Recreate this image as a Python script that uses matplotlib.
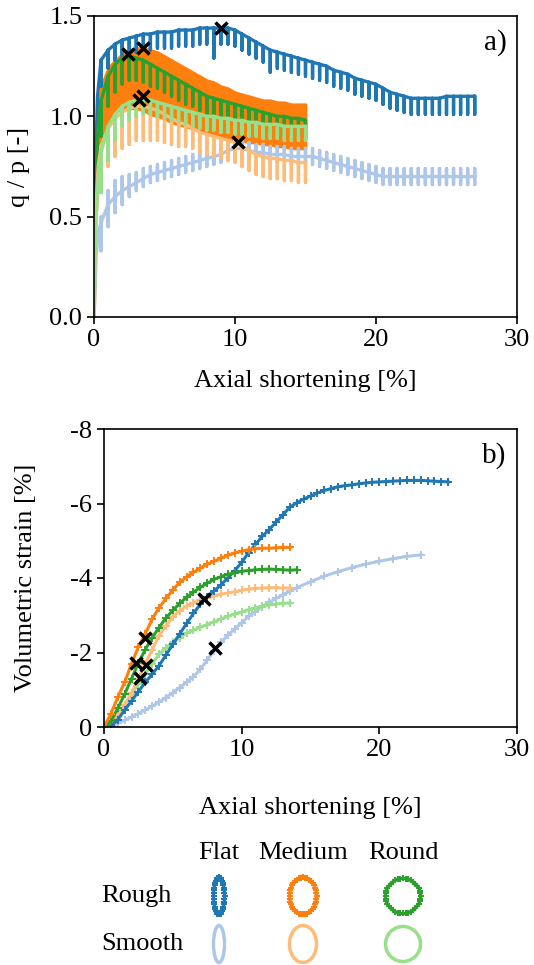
import numpy as np
import matplotlib
matplotlib.use('Agg')
import matplotlib.pyplot as plt
from matplotlib.patches import Ellipse

plt.rcParams['font.family'] = ['Liberation Serif', 'DejaVu Serif']
plt.rcParams['axes.unicode_minus'] = False
plt.rcParams['axes.linewidth'] = 1.2
plt.rcParams['xtick.major.width'] = 1.2
plt.rcParams['ytick.major.width'] = 1.2
plt.rcParams['xtick.major.size'] = 5
plt.rcParams['ytick.major.size'] = 5

FS = 19

# colours per sample: rough/smooth x flat/medium/round
C_FLAT_R, C_FLAT_S = '#1f77b4', '#aec7e8'
C_MED_R, C_MED_S = '#ff7f0e', '#ffbb78'
C_RND_R, C_RND_S = '#2ca02c', '#98df8a'

# ---------------- a) stress ratio q/p vs axial shortening ----------------
# unloading cycles, every 0.5 % axial shortening
cyc_27 = [0.5, 1.0, 1.5, 2.0, 2.5, 3.0, 3.5, 4.0, 4.5, 5.0,
          5.5, 6.0, 6.5, 7.0, 7.5, 8.0, 8.5, 9.0, 9.5, 10.0,
          10.5, 11.0, 11.5, 12.0, 12.5, 13.0, 13.5, 14.0, 14.5, 15.0,
          15.5, 16.0, 16.5, 17.0, 17.5, 18.0, 18.5, 19.0, 19.5, 20.0,
          20.5, 21.0, 21.5, 22.0, 22.5, 23.0, 23.5, 24.0, 24.5, 25.0,
          25.5, 26.0, 26.5, 27.0]
cyc_15 = [0.5, 1.0, 1.5, 2.0, 2.5, 3.0, 3.5, 4.0, 4.5, 5.0,
          5.5, 6.0, 6.5, 7.0, 7.5, 8.0, 8.5, 9.0, 9.5, 10.0,
          10.5, 11.0, 11.5, 12.0, 12.5, 13.0, 13.5, 14.0, 14.5, 15.0]

# flat rough
fr_x0, fr_y0 = [0.0, 0.1, 0.25], [0.0, 0.75, 1.10]
fr_top = [1.28, 1.33, 1.36, 1.38, 1.39, 1.40, 1.41, 1.41, 1.42, 1.42,
          1.42, 1.43, 1.43, 1.43, 1.44, 1.44, 1.44, 1.44, 1.44, 1.43,
          1.41, 1.39, 1.37, 1.35, 1.33, 1.32, 1.31, 1.30, 1.29, 1.28,
          1.27, 1.26, 1.25, 1.23, 1.22, 1.21, 1.19, 1.18, 1.17, 1.16,
          1.14, 1.12, 1.11, 1.10, 1.09, 1.09, 1.09, 1.09, 1.09, 1.10,
          1.10, 1.10, 1.10, 1.10]
fr_low = [1.15, 1.24, 1.28, 1.30, 1.31, 1.32, 1.33, 1.33, 1.34, 1.34,
          1.34, 1.35, 1.35, 1.35, 1.36, 1.36, 1.29, 1.36, 1.36, 1.35,
          1.33, 1.31, 1.29, 1.27, 1.22, 1.24, 1.23, 1.22, 1.21, 1.20,
          1.19, 1.18, 1.17, 1.15, 1.14, 1.13, 1.11, 1.10, 1.09, 1.08,
          1.06, 1.04, 1.03, 1.02, 1.01, 1.01, 1.01, 1.01, 1.01, 1.01,
          1.01, 1.01, 1.01, 1.01]

# flat smooth
fs_x0, fs_y0 = [0.0, 0.15, 0.3], [0.0, 0.30, 0.42]
fs_mid = [0.47, 0.56, 0.60, 0.63, 0.65, 0.67, 0.69, 0.71, 0.72, 0.73,
          0.74, 0.75, 0.76, 0.77, 0.78, 0.79, 0.80, 0.81, 0.83, 0.84,
          0.84, 0.83, 0.82, 0.82, 0.81, 0.81, 0.81, 0.80, 0.80, 0.80,
          0.80, 0.79, 0.78, 0.77, 0.76, 0.75, 0.74, 0.73, 0.72, 0.71,
          0.70, 0.70, 0.70, 0.70, 0.70, 0.70, 0.70, 0.70, 0.70, 0.70,
          0.70, 0.70, 0.70, 0.70]
fs_low = [0.33, 0.45, 0.52, 0.56, 0.60, 0.63, 0.65, 0.67, 0.68, 0.69,
          0.70, 0.71, 0.72, 0.73, 0.74, 0.75, 0.76, 0.77, 0.79, 0.80,
          0.80, 0.79, 0.78, 0.78, 0.77, 0.77, 0.77, 0.76, 0.76, 0.76,
          0.76, 0.75, 0.74, 0.73, 0.72, 0.71, 0.70, 0.69, 0.68, 0.67,
          0.66, 0.66, 0.66, 0.66, 0.66, 0.66, 0.66, 0.66, 0.66, 0.66,
          0.66, 0.66, 0.66, 0.66]
fs_high = [0.50, 0.63, 0.68, 0.70, 0.71, 0.72, 0.74, 0.75, 0.76, 0.77,
           0.78, 0.79, 0.80, 0.81, 0.82, 0.83, 0.84, 0.85, 0.87, 0.88,
           0.88, 0.87, 0.86, 0.86, 0.85, 0.85, 0.85, 0.84, 0.84, 0.84,
           0.84, 0.83, 0.82, 0.81, 0.80, 0.79, 0.78, 0.77, 0.76, 0.75,
           0.74, 0.74, 0.74, 0.74, 0.74, 0.74, 0.74, 0.74, 0.74, 0.74,
           0.74, 0.74, 0.74, 0.74]

# medium rough: dense oscillation, given as envelope
mr_x = [0.0, 0.1, 0.3, 0.5, 1.0, 1.5, 2.0, 2.5, 3.0, 3.5, 4.0, 4.5, 5.0,
        5.5, 6.0, 6.5, 7.0, 7.5, 8.0, 8.5, 9.0, 9.5, 10.0,
        10.5, 11.0, 11.5, 12.0, 12.5, 13.0, 13.5, 14.0, 14.5, 15.0]
mr_upper = [0.0, 0.70, 1.05, 1.15, 1.24, 1.28, 1.31, 1.33, 1.34, 1.34, 1.33, 1.32, 1.30,
            1.28, 1.26, 1.24, 1.22, 1.20, 1.18, 1.17, 1.15, 1.14, 1.12,
            1.11, 1.10, 1.09, 1.08, 1.08, 1.07, 1.07, 1.06, 1.06, 1.06]
mr_lower = [0.0, 0.45, 0.75, 0.90, 0.98, 1.02, 1.04, 1.04, 1.04, 1.03, 1.01, 1.00, 0.99,
            0.97, 0.96, 0.95, 0.94, 0.93, 0.92, 0.91, 0.90, 0.89, 0.88,
            0.88, 0.87, 0.87, 0.86, 0.86, 0.85, 0.85, 0.84, 0.84, 0.84]

# medium smooth
ms_x0, ms_y0 = [0.0, 0.1, 0.3], [0.0, 0.50, 0.75]
ms_top = [0.85, 0.94, 0.99, 1.02, 1.04, 1.05, 1.05, 1.04, 1.03, 1.01,
          0.99, 0.97, 0.96, 0.94, 0.92, 0.91, 0.90, 0.89, 0.88, 0.87,
          0.85, 0.83, 0.81, 0.80, 0.79, 0.79, 0.78, 0.78, 0.77, 0.77]
ms_low = [0.62, 0.75, 0.80, 0.84, 0.86, 0.88, 0.88, 0.88, 0.88, 0.87,
          0.86, 0.85, 0.85, 0.84, 0.82, 0.81, 0.80, 0.79, 0.78, 0.77,
          0.75, 0.73, 0.71, 0.70, 0.69, 0.69, 0.68, 0.68, 0.67, 0.67]

# round rough
rr_x0, rr_y0 = [0.0, 0.1, 0.3], [0.0, 0.60, 0.95]
rr_top = [1.08, 1.20, 1.26, 1.29, 1.30, 1.29, 1.28, 1.26, 1.24, 1.22,
          1.20, 1.18, 1.16, 1.14, 1.12, 1.10, 1.09, 1.08, 1.07, 1.06,
          1.05, 1.04, 1.03, 1.02, 1.01, 1.00, 1.00, 0.99, 0.99, 0.98]
rr_low = [0.90, 1.05, 1.12, 1.16, 1.18, 1.18, 1.17, 1.15, 1.14, 1.12,
          1.10, 1.08, 1.06, 1.05, 1.03, 1.01, 1.00, 0.99, 0.98, 0.97,
          0.96, 0.95, 0.94, 0.93, 0.92, 0.91, 0.91, 0.90, 0.90, 0.89]

# round smooth
rs_x0, rs_y0 = [0.0, 0.1, 0.3], [0.0, 0.40, 0.70]
rs_top = [0.82, 0.95, 1.01, 1.05, 1.07, 1.08, 1.09, 1.08, 1.07, 1.06,
          1.05, 1.04, 1.03, 1.02, 1.01, 1.00, 1.00, 0.99, 0.99, 0.98,
          0.98, 0.97, 0.97, 0.96, 0.96, 0.96, 0.95, 0.95, 0.95, 0.95]
rs_low = [0.62, 0.78, 0.88, 0.95, 0.98, 1.00, 1.01, 1.01, 1.00, 0.99,
          0.98, 0.97, 0.96, 0.95, 0.94, 0.93, 0.93, 0.92, 0.92, 0.91,
          0.91, 0.90, 0.90, 0.89, 0.89, 0.89, 0.88, 0.88, 0.88, 0.88]

# peak stress ratio: flat R, medium R, round R, flat S, medium S, round S
peak_x = [9.0, 3.5, 2.4, 10.2, 3.2, 3.5]
peak_q = [1.44, 1.34, 1.31, 0.87, 1.08, 1.10]

# ---------------- b) volumetric strain vs axial shortening ----------------
vb_fr_x = [0, 0.5, 1, 1.5, 2, 2.5, 3, 3.5, 4, 4.5, 5, 5.5, 6, 6.5, 7, 7.5, 8, 8.5, 9, 9.5,
           10, 10.5, 11, 11.5, 12, 12.5, 13, 13.5, 14, 14.5, 15, 15.5, 16, 16.5, 17, 17.5,
           18, 18.5, 19, 19.5, 20, 20.5, 21, 21.5, 22, 22.5, 23, 23.5, 24, 24.5, 25]
vb_fr_y = [0, -0.02, -0.2, -0.45, -0.7, -0.95, -1.2, -1.42, -1.65, -1.93,
           -2.22, -2.5, -2.78, -3.05, -3.3, -3.5, -3.65, -3.82, -4.0, -4.2,
           -4.42, -4.68, -4.9, -5.12, -5.3, -5.5, -5.7, -5.9, -6.02, -6.12,
           -6.2, -6.28, -6.35, -6.4, -6.45, -6.48, -6.5, -6.53, -6.55, -6.57,
           -6.58, -6.59, -6.6, -6.61, -6.62, -6.62, -6.62, -6.61, -6.6, -6.59, -6.58]
vb_fs_x = [0, 0.5, 1, 1.5, 2, 2.5, 3, 3.5, 4, 4.5, 5, 5.5, 6, 6.5, 7, 7.5, 8, 8.5, 9, 9.5,
           10, 10.5, 11, 11.5, 12, 12.5, 13, 13.5, 14, 15, 16, 17, 18, 19, 20, 21, 22, 23]
vb_fs_y = [0, -0.03, -0.1, -0.18, -0.27, -0.36, -0.46, -0.56, -0.67, -0.79,
           -0.92, -1.06, -1.2, -1.35, -1.55, -1.8, -2.05, -2.27, -2.47, -2.63,
           -2.8, -2.97, -3.1, -3.23, -3.35, -3.45, -3.55, -3.65, -3.74,
           -3.9, -4.05, -4.17, -4.28, -4.37, -4.45, -4.52, -4.58, -4.62]
vb_m_x = [0, 0.5, 1, 1.5, 2, 2.5, 3, 3.5, 4, 4.5, 5, 5.5, 6, 6.5, 7, 7.5, 8, 8.5, 9, 9.5,
          10, 10.5, 11, 11.5, 12, 12.5, 13, 13.5]
vb_mr_y = [0, -0.35, -0.8, -1.2, -1.7, -2.15, -2.5, -2.9, -3.2, -3.45,
           -3.68, -3.88, -4.03, -4.15, -4.27, -4.37, -4.45, -4.53, -4.61, -4.67,
           -4.72, -4.76, -4.79, -4.8, -4.8, -4.81, -4.82, -4.82]
vb_ms_y = [0, -0.1, -0.3, -0.6, -0.92, -1.3, -1.7, -2.08, -2.45, -2.72,
           -2.95, -3.12, -3.25, -3.33, -3.41, -3.47, -3.52, -3.57, -3.6, -3.63,
           -3.67, -3.7, -3.72, -3.73, -3.74, -3.74, -3.73, -3.73]
vb_rr_x = [0, 0.5, 1, 1.5, 2, 2.5, 3, 3.5, 4, 4.5, 5, 5.5, 6, 6.5, 7, 7.5, 8, 8.5, 9, 9.5,
           10, 10.5, 11, 11.5, 12, 12.5, 13, 13.5, 14]
vb_rr_y = [0, -0.15, -0.5, -0.88, -1.3, -1.72, -2.08, -2.4, -2.67, -2.93,
           -3.13, -3.32, -3.48, -3.62, -3.75, -3.86, -3.96, -4.04, -4.1, -4.14,
           -4.18, -4.2, -4.22, -4.23, -4.24, -4.23, -4.22, -4.21, -4.22]
vb_rs_y = [0, -0.08, -0.3, -0.6, -0.88, -1.15, -1.42, -1.7, -1.95, -2.13,
           -2.27, -2.4, -2.52, -2.6, -2.68, -2.75, -2.83, -2.9, -2.97, -3.03,
           -3.09, -3.15, -3.2, -3.24, -3.28, -3.3, -3.32, -3.33]

# marked states: flat R, medium R, round R, flat S, medium S, round S
mark_x = [2.61, 2.98, 2.32, 8.06, 7.26, 3.05]
mark_ev = [-1.32, -2.39, -1.72, -2.12, -3.44, -1.66]


def with_cycles(x0, y0, xc, top, low, high=None):
    """Curve through the cycle tops with a vertical unloading spike at each cycle."""
    xs, ys = list(x0), list(y0)
    if high is None:
        high = top
    for xi, t, lo, hi in zip(xc, top, low, high):
        xs += [xi, xi, xi, xi]
        ys += [t, hi, lo, t]
    return xs, ys


fig = plt.figure(figsize=(5.34, 9.65), dpi=100)
W, H = 534, 965
ax1 = fig.add_axes([94 / W, 1 - 317 / H, (517 - 94) / W, (317 - 16) / H])
ax2 = fig.add_axes([104 / W, 1 - 727 / H, (517 - 104) / W, (727 - 429) / H])

LW_A = 2.4
ax1.plot(*with_cycles(fr_x0, fr_y0, cyc_27, fr_top, fr_low), color=C_FLAT_R, lw=LW_A)
ax1.fill_between(mr_x, mr_lower, mr_upper, color=C_MED_R, lw=2)
ax1.plot(*with_cycles(rr_x0, rr_y0, cyc_15, rr_top, rr_low), color=C_RND_R, lw=LW_A)
ax1.plot(*with_cycles(fs_x0, fs_y0, cyc_27, fs_mid, fs_low, fs_high), color=C_FLAT_S, lw=LW_A)
ax1.plot(*with_cycles(ms_x0, ms_y0, cyc_15, ms_top, ms_low), color=C_MED_S, lw=LW_A)
ax1.plot(*with_cycles(rs_x0, rs_y0, cyc_15, rs_top, rs_low), color=C_RND_S, lw=LW_A)
ax1.plot(peak_x, peak_q, ls='none', marker='x', ms=9, mew=2.5, color='k', zorder=5)

ax1.set_xlim(0, 30)
ax1.set_ylim(0, 1.5)
ax1.set_xticks([0, 10, 20, 30])
ax1.set_yticks([0.0, 0.5, 1.0, 1.5])
ax1.set_yticklabels(['0.0', '0.5', '1.0', '1.5'])
ax1.tick_params(labelsize=FS)
ax1.set_xlabel('Axial shortening [%]', fontsize=FS, labelpad=14)
ax1.set_ylabel('q / p [-]', fontsize=FS, labelpad=14)
ax1.text(0.975, 0.955, 'a)', transform=ax1.transAxes, ha='right', va='top', fontsize=FS + 2)

LW_B = 2.2
kw = dict(marker='+', ms=5.5, mew=1.4, lw=LW_B)
ax2.plot(vb_fs_x, vb_fs_y, color=C_FLAT_S, **kw)
ax2.plot(vb_m_x, vb_rs_y, color=C_RND_S, **kw)
ax2.plot(vb_m_x, vb_ms_y, color=C_MED_S, **kw)
ax2.plot(vb_fr_x, vb_fr_y, color=C_FLAT_R, **kw)
ax2.plot(vb_rr_x, vb_rr_y, color=C_RND_R, **kw)
ax2.plot(vb_m_x, vb_mr_y, color=C_MED_R, **kw)
ax2.plot(mark_x, mark_ev, ls='none', marker='x', ms=9, mew=2.5, color='k', zorder=5)

ax2.set_xlim(0, 30)
ax2.set_ylim(0, -8)
ax2.set_xticks([0, 10, 20, 30])
ax2.set_yticks([0, -2, -4, -6, -8])
ax2.tick_params(labelsize=FS)
ax2.set_xlabel('Axial shortening [%]', fontsize=FS, labelpad=26)
ax2.set_ylabel('Volumetric strain [%]', fontsize=FS, labelpad=24)
ax2.text(0.975, 0.955, 'b)', transform=ax2.transAxes, ha='right', va='top', fontsize=FS + 2)

# particle shape key, drawn in pixel units of the lower strip
axk = fig.add_axes([0, 0, 1, 135 / H])
axk.set_xlim(0, W)
axk.set_ylim(H, H - 135)
axk.axis('off')

col_x = [219, 303, 403]
col_names = ['Flat', 'Medium', 'Round']
row_y = [896, 944]
row_names = ['Rough', 'Smooth']
sizes = [(11, 37), (27, 37), (35, 35)]
rough_cols = [C_FLAT_R, C_MED_R, C_RND_R]
smooth_cols = [C_FLAT_S, C_MED_S, C_RND_S]

for cx, name in zip(col_x, col_names):
    axk.text(cx, 853, name, ha='center', va='center', fontsize=FS)
for ry, name in zip(row_y, row_names):
    axk.text(101, ry, name, ha='left', va='center', fontsize=FS)

t = np.linspace(0, 2 * np.pi, 41)
for cx, (w, h), c in zip(col_x, sizes, rough_cols):
    axk.add_patch(Ellipse((cx, row_y[0]), w, h, fill=False, ec=c, lw=2.2))
    axk.plot(cx + w / 2 * np.cos(t), row_y[0] + h / 2 * np.sin(t), ls='none',
             marker='+', ms=4, mew=1.5, color=c)
for cx, (w, h), c in zip(col_x, sizes, smooth_cols):
    axk.add_patch(Ellipse((cx, row_y[1]), w, h, fill=False, ec=c, lw=2.5))

fig.savefig('out.png', dpi=100)
